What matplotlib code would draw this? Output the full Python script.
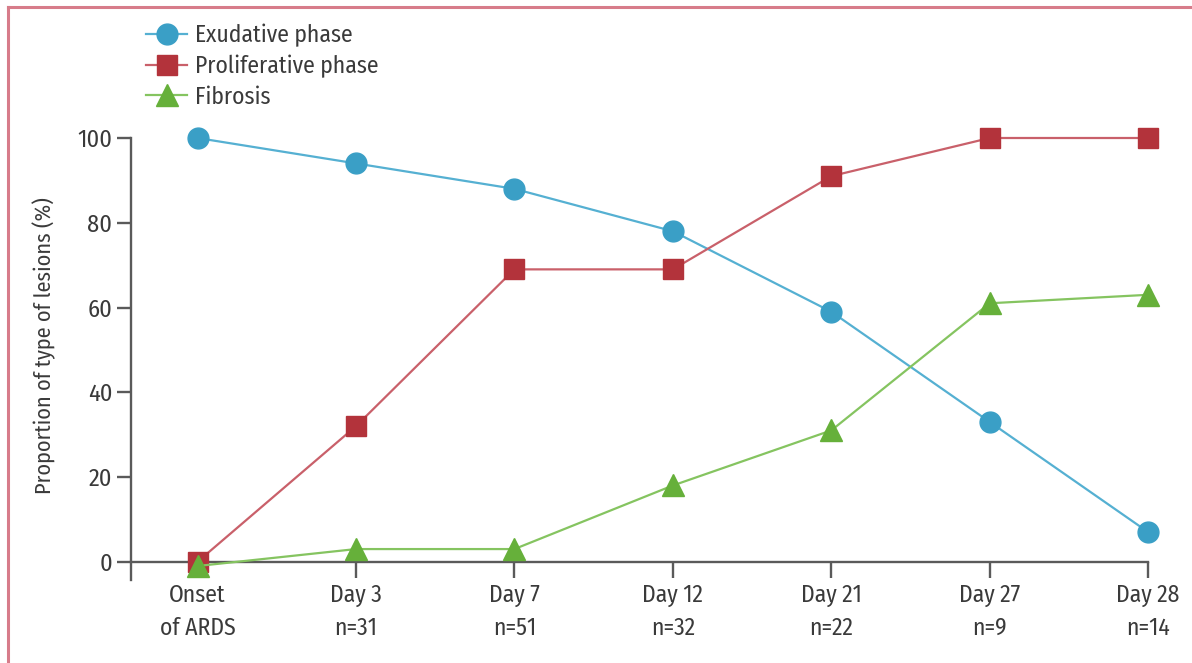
import matplotlib
matplotlib.use("Agg")
import matplotlib.pyplot as plt
from matplotlib.font_manager import fontManager
from matplotlib.lines import Line2D

categories = ["Onset\nof ARDS", "Day 3\nn=31", "Day 7\nn=51", "Day 12\nn=32",
              "Day 21\nn=22", "Day 27\nn=9", "Day 28\nn=14"]
exudative = [100, 94, 88, 78, 59, 33, 7]
proliferative = [0, 32, 69, 69, 91, 100, 100]
fibrosis = [-1, 3, 3, 18, 31, 61, 63]
yticks = [0, 20, 40, 60, 80, 100]
series_names = ["Exudative phase", "Proliferative phase", "Fibrosis"]

names = {f.name for f in fontManager.ttflist}
pref = ["Fira Sans Condensed", "Asap Condensed", "PT Sans Narrow",
        "Roboto Condensed", "Open Sans", "DejaVu Sans"]
fam = [f for f in pref if f in names][:1] + ["DejaVu Sans"]
plt.rcParams['font.family'] = fam

W, H = 1192, 663
fig = plt.figure(figsize=(W / 100, H / 100), dpi=100)

# pink border (top and left)
fig.add_artist(Line2D([8 / W, 8 / W], [0, 1 - 7 / H], transform=fig.transFigure,
                      color="#d77c8a", lw=2.2))
fig.add_artist(Line2D([8 / W, 1], [1 - 7 / H, 1 - 7 / H], transform=fig.transFigure,
                      color="#d77c8a", lw=2.2))

ax = fig.add_axes([131 / W, 83 / H, 1033 / W, 442 / H])
x = list(range(len(categories)))

blue_m, blue_l = "#3a9fc6", "#55b0d2"
red_m, red_l = "#b3333b", "#c9606a"
green_m, green_l = "#66b03a", "#85c460"
txt = "#3a3a3a"

ax.plot(x, exudative, color=blue_l, lw=1.6, marker="o", ms=15,
        mfc=blue_m, mec=blue_m, clip_on=False, zorder=3, label=series_names[0])
ax.plot(x, proliferative, color=red_l, lw=1.6, marker="s", ms=15,
        mfc=red_m, mec=red_m, clip_on=False, zorder=3, label=series_names[1])
ax.plot(x, fibrosis, color=green_l, lw=1.6, marker="^", ms=15.5,
        mfc=green_m, mec=green_m, clip_on=False, zorder=4, label=series_names[2])

ax.set_xlim(-0.42, 6.1)
ax.set_ylim(-4.3, 100)

for s in ["top", "right"]:
    ax.spines[s].set_visible(False)
ax.spines["bottom"].set_position(("data", 0))
ax.spines["bottom"].set_bounds(-0.42, 6.0)
ax.spines["left"].set_bounds(-4.3, 100)
for s in ["left", "bottom"]:
    ax.spines[s].set_color("#5a5a5a")
    ax.spines[s].set_linewidth(1.7)

ax.set_xticks(x)
ax.set_xticklabels(categories, fontsize=17, color=txt, linespacing=1.5)
ax.set_yticks(yticks)
ax.set_yticklabels([str(v) for v in yticks], fontsize=17.5, color=txt)
ax.tick_params(axis="x", direction="out", length=11.5, width=1.7, color="#5a5a5a", pad=4.5)
ax.tick_params(axis="y", direction="out", length=10, width=1.7, color="#5a5a5a", pad=3.5)

ax.set_ylabel("Proportion of type of lesions (%)", fontsize=16, color=txt)
ax.yaxis.set_label_coords(-0.073, 0.53)

leg = fig.legend(loc="upper left", bbox_to_anchor=(146 / W, 1 - 24 / H), frameon=False,
                 fontsize=17, handlelength=1.74, handletextpad=0.34, labelspacing=0.31,
                 borderaxespad=0, borderpad=0)
for t in leg.get_texts():
    t.set_color(txt)

fig.savefig("out.png", dpi=100)
